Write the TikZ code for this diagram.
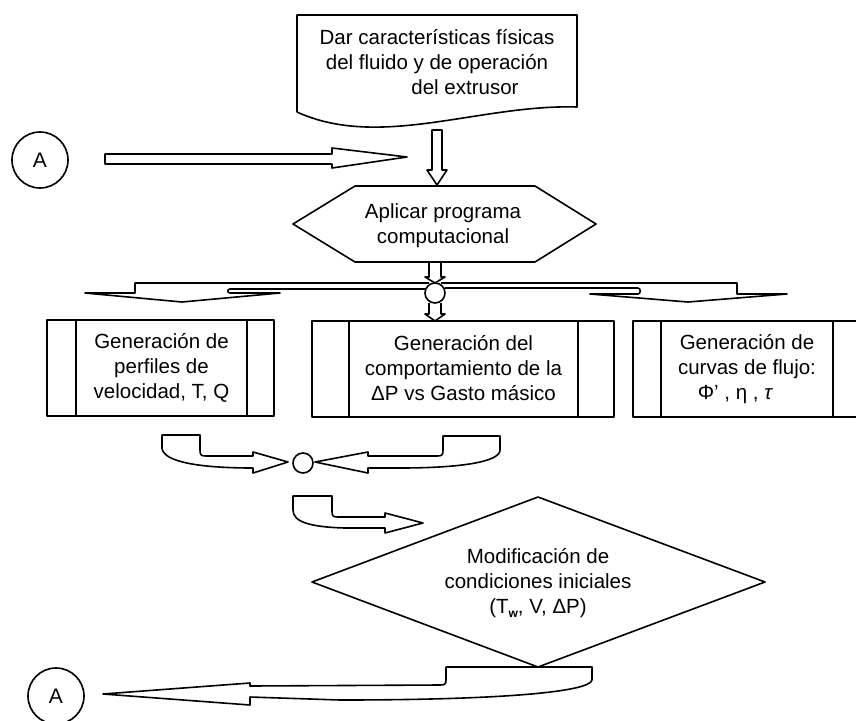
\documentclass[tikz,border=0pt]{standalone}
\usepackage{fontspec}
\setmainfont{Liberation Sans}
\usetikzlibrary{shapes.geometric}
\begin{document}
\begin{tikzpicture}[x=1pt,y=-1pt,line width=1.6pt,line join=round,
  txt/.style={font=\fontsize{20.5}{25}\selectfont,align=center,inner sep=0pt},
  lbl/.style={circle,draw,minimum size=56pt,inner sep=0pt,font=\fontsize{21}{25}\selectfont},
  hubc/.style={circle,draw,minimum size=20pt,inner sep=0pt}]
\useasboundingbox (0,0) rectangle (856,720);

% top document box
\draw (297,112) -- (297,15) -- (577,15) -- (577,107) .. controls (480,104) and (380,150) .. (297,112);
\node[txt] (start) at (437,62) {Dar características físicas\\del fluido y de operación\\\hspace*{56pt}del extrusor};

% circles A
\node[lbl] (A1) at (40,160) {A};
\node[lbl] (A2) at (56,696) {A};

% arrow from A
\draw (105,154) -- (332,154) -- (332,148) -- (407,157) -- (332,168) -- (332,164) -- (105,164) -- cycle;
% down arrow to hexagon
\draw (432,130) -- (442,130) -- (442,170) -- (447,170) -- (437,185) -- (427,170) -- (432,170) -- cycle;

% hexagon
\draw (293,224) -- (355,186) -- (535,186) -- (596,224) -- (535,262) -- (355,262) -- cycle;
\node[txt] (prog) at (443,226) {Aplicar programa\\computacional};

% branch
\node[hubc] (hub) at (435,293) {};
\draw (429,262) -- (429,277) -- (425,277) -- (435,283) -- (445,277) -- (441,277) -- (441,262);
\draw (429,303) -- (429,314) -- (425,314) -- (435,321) -- (445,314) -- (441,314) -- (441,303);
\draw (429,283) -- (135,283) -- (135,293) -- (85,293) -- (182,302) -- (280,293) -- (230,293)
  .. controls (227,293) and (227,289) .. (230,289) -- (425.5,289);
\draw (441,283) -- (737,283) -- (737,294) -- (787,294) -- (688,302) -- (590,294) -- (638,294)
  .. controls (641,294) and (641,288) .. (638,288) -- (444.5,288);

% boxes
\draw (47,320) rectangle (274,416);
\draw (76,320) -- (76,416) (247,320) -- (247,416);
\node[txt] (b1) at (161.5,368) {Generación de\\perfiles de\\velocidad, T, Q};
\draw (312,321) rectangle (614,417);
\draw (349,321) -- (349,417) (578,321) -- (578,417);
\node[txt] (b2) at (463.5,368) {Generación del\\comportamiento de la\\ΔP vs Gasto másico};
\draw (880,321) -- (633,321) -- (633,417) -- (880,417);
\draw (661,321) -- (661,417) (833,321) -- (833,417);
\node[txt,anchor=base] (b3) at (747,374) {Generación de\\curvas de flujo:};
\node[txt,anchor=base west] (b3c) at (697,399) {Φ’ , η , \textit{τ}};

% converging arrows
\node[hubc] (join) at (303,463) {};
\draw (162,435) -- (200,435) -- (200,450) .. controls (200,455) and (201,456) .. (206,456) -- (253,456)
  -- (253,452) -- (288,462) -- (253,473) -- (253,468) .. controls (200,468) and (163,462) .. (162,448) -- cycle;
\draw (368,456) -- (437,456) .. controls (442,456) and (443,455) .. (443,450) -- (443,436) -- (500,436)
  -- (500,450) .. controls (500,462) and (460,468) .. (400,468) -- (368,468) -- (368,473) -- (315,462) -- (368,452) -- cycle;

% arrow to diamond
\draw (293,496) -- (332,496) -- (332,511) .. controls (332,516) and (333,517) .. (338,517) -- (385,517)
  -- (385,513) -- (423,523) -- (385,533) -- (385,528) -- (345,528) .. controls (310,527) and (293,522) .. (293,510) -- cycle;

% diamond
\draw (312,582) -- (538,497) -- (765,582) -- (538,667) -- cycle;
\node[txt] (mod) at (538,583) {Modificación de\\condiciones iniciales\\(T\raisebox{-0.35ex}{\fontsize{12}{12}\selectfont\bfseries w}, V, ΔP)};

% return arrow
\draw (446,667) -- (592,667) -- (592,680) .. controls (590,692) and (500,700) .. (340,700) -- (250,697)
  -- (250,705) -- (103,694) -- (250,683) -- (250,686) -- (440,685) .. controls (445,685) and (446,684) .. (446,680) -- cycle;
\end{tikzpicture}
\end{document}
